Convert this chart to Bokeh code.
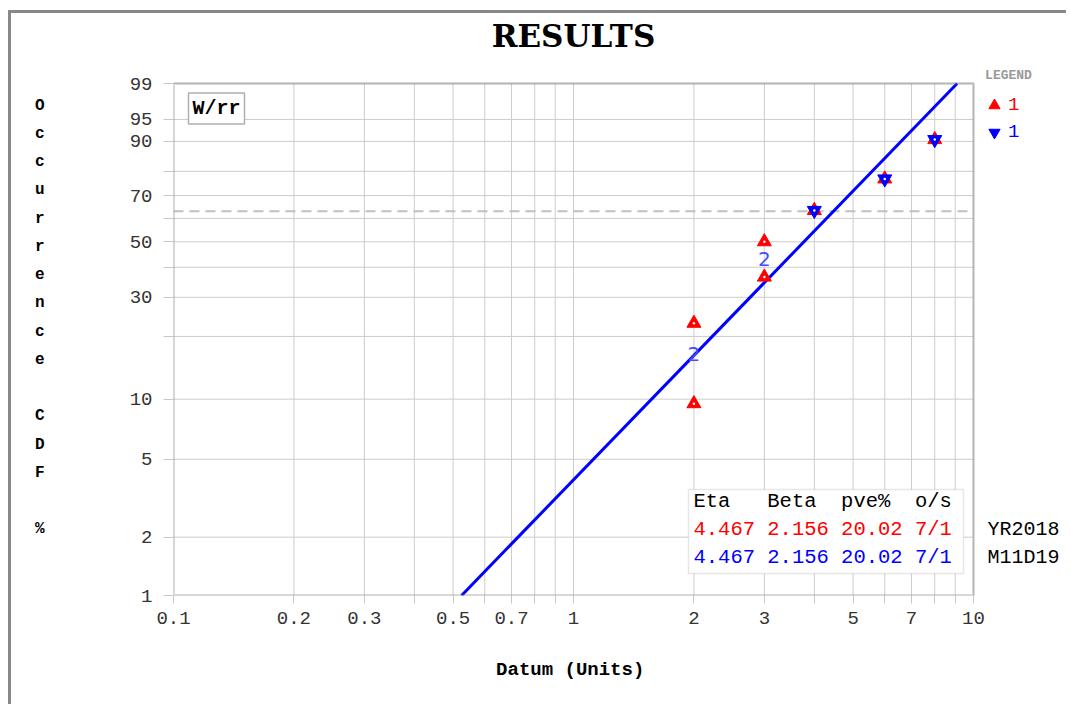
import math
from bokeh.plotting import figure
from bokeh.models import (FixedTicker, CustomJSTickFormatter, Label, BoxAnnotation,
                          Legend, LegendItem, LinearAxis, Range1d)
from bokeh.core.properties import value
from bokeh.embed import file_html
from bokeh.resources import INLINE

# ---------------- data ----------------
title_text = "RESULTS"
x_title = "Datum (Units)"
y_title = "Occurrence CDF %"
fit_tag = "W/rr"

fail_x = [2, 2, 3, 3, 4, 6, 8]
fail_pct = [9.5, 23.0, 36.5, 50.0, 63.5, 77.0, 90.5]
blue_x = [4, 6, 8]
blue_pct = [63.5, 77.0, 90.5]
group_x = [2, 3]
group_pct = [16.5, 43.0]
group_txt = ["2", "2"]
fit_x = [0.525, 9.1]
fit_pct = [1.0, 99.0]
eta_pct = 63.2

x_grid = [0.1, 0.2, 0.3, 0.4, 0.5, 0.6, 0.7, 0.8, 0.9,
          1, 2, 3, 4, 5, 6, 7, 8, 9, 10]
x_labels = [0.1, 0.2, 0.3, 0.5, 0.7, 1, 2, 3, 5, 7, 10]
y_grid = [1, 2, 5, 10, 20, 30, 40, 50, 60, 70, 80, 90, 95, 99]
y_labels = [1, 2, 5, 10, 30, 50, 70, 90, 95, 99]

table_header = "Eta   Beta  pve%  o/s"
table_rows = ["4.467 2.156 20.02 7/1", "4.467 2.156 20.02 7/1"]
row_colors = ["#ff0000", "#0000ff"]
stamps = ["YR2018", "M11D19"]
legend_labels = ["1", "1"]


def wb(pct):
    return math.log(-math.log(1 - pct / 100.0))


FONT = "Liberation Mono"
NB = "\u00a0"
# page layout (pixels): canvas origin, plot-area box
OX, OY = 11, 13
W, H = 1058, 694
PL, PR, PT, PB = 173, 973, 83, 595
DEC = (PR - PL) / 2.0                      # pixels per decade
FR_R = OX + W                              # frame right (page)
FR_T = OY                                  # frame top (page)

x_end = 10 ** (-1 + (FR_R - PL) / DEC)
y0, y1 = wb(1), wb(99)
y_end = y0 + (PB - FR_T) / (PB - PT) * (y1 - y0)

p = figure(width=W, height=H, x_axis_type="log", x_range=(0.1, x_end),
           y_range=(y0, y_end), output_backend="svg", toolbar_location=None,
           title=None, min_border_left=PL - OX, min_border_right=0,
           min_border_top=0, min_border_bottom=H - (PB - OY))
p.styles = {"margin-left": "8px", "margin-top": "10px",
            "border-top": "3px solid #888888", "border-left": "3px solid #888888"}
p.outline_line_color = None
p.grid.visible = False

xt = FixedTicker(ticks=x_grid)
yt = FixedTicker(ticks=[wb(v) for v in y_grid])
p.xaxis.ticker = xt
p.yaxis.ticker = yt
p.xaxis.bounds = (0.1, 10)
p.yaxis.bounds = (y0, y1)
p.xaxis.formatter = CustomJSTickFormatter(args=dict(labs=x_labels), code="""
for (const l of labs) { if (Math.abs(l - tick) < 1e-6 * Math.max(1, l)) return l < 1 ? l.toFixed(1) : l.toFixed(0); }
return "";
""")
p.yaxis.formatter = CustomJSTickFormatter(args=dict(labs=y_labels), code="""
const f = 100 * (1 - Math.exp(-Math.exp(tick)));
for (const l of labs) { if (Math.abs(l - f) < 0.01) return String(l); }
return "";
""")
for ax in (p.xaxis, p.yaxis):
    ax.axis_line_color = None
    ax.major_tick_line_color = "#c8c8c8"
    ax.minor_tick_line_color = None
    ax.major_tick_in = 0
    ax.major_label_text_font = FONT
    ax.major_label_text_font_size = "19px"
    ax.major_label_text_color = "#333333"
p.xaxis.major_tick_out = 8
p.xaxis.major_label_standoff = 8
p.yaxis.major_tick_out = 10
p.yaxis.major_label_standoff = 11
# the axis label is centred on the whole frame; trailing no-break spaces
# shift the visible words back under the plot area
p.xaxis.axis_label = x_title + NB * 9
p.xaxis.axis_label_text_font = FONT
p.xaxis.axis_label_text_font_size = "19px"
p.xaxis.axis_label_text_font_style = "bold"
p.xaxis.axis_label_text_color = "black"
p.xaxis.axis_label_standoff = 32

# stacked letters of the y title, as a second left axis
letter_idx = [i for i, ch in enumerate(y_title) if ch != " "]
LY0, LDY = 105, 28.25
p.extra_y_ranges = {"letters": Range1d(start=(PB - LY0) / LDY, end=(FR_T - LY0) / LDY)}
letters_axis = LinearAxis(y_range_name="letters", ticker=FixedTicker(ticks=letter_idx),
                          formatter=CustomJSTickFormatter(args=dict(txt=list(y_title)),
                                                          code="return txt[Math.round(tick)];"),
                          axis_line_color=None, major_tick_line_color=None,
                          minor_tick_line_color=None, major_tick_out=0, major_tick_in=0,
                          major_label_standoff=82, major_label_text_font=FONT,
                          major_label_text_font_size="16px",
                          major_label_text_font_style="bold",
                          major_label_text_color="black")
p.add_layout(letters_axis, "left")

# plot-area grid and frame
ys_lo, ys_hi = [y0] * len(x_grid), [y1] * len(x_grid)
p.segment(x0=x_grid, y0=ys_lo, x1=x_grid, y1=ys_hi, line_color="#cccccc",
          line_width=1, level="underlay")
yg = [wb(v) for v in y_grid]
p.segment(x0=[0.1] * len(yg), y0=yg, x1=[10] * len(yg), y1=yg, line_color="#cccccc",
          line_width=1, level="underlay")
p.line([0.1, 10], [wb(eta_pct)] * 2, line_color="#c0c0c0", line_width=2,
       line_dash="10 6", level="underlay")

p.line(fit_x, [wb(v) for v in fit_pct], line_color="#0000ff", line_width=3)

fy = [wb(v) for v in fail_pct]
by = [wb(v) for v in blue_pct]
red = p.scatter(fail_x, fy, marker="triangle", size=14,
                fill_color="#ff0000", line_color="#ff0000", line_width=1)
p.scatter(fail_x, fy, marker="circle", size=2.5, fill_color="white", line_color=None)
blue = p.scatter(blue_x, by, marker="inverted_triangle", size=14,
                 fill_color="#0000ff", line_color="#0000ff", line_width=1)
p.scatter(blue_x, by, marker="circle", size=2.5, fill_color="white", line_color=None)
p.text(group_x, [wb(v) for v in group_pct], text=group_txt, text_color="#4a4aff",
       text_font=value("DejaVu Sans"), text_font_size="20px",
       text_align="center", text_baseline="middle")

p.add_layout(BoxAnnotation(left=0.1, right=10, bottom=y0, top=y1, fill_alpha=0,
                           line_color="#808080", line_width=3))


def lab(px, py, text, size="19px", color="black", style="normal", align="left",
        font=FONT, **kw):
    p.add_layout(Label(x=px - PL, y=PB - py, x_units="screen", y_units="screen",
                       text=text.replace(" ", NB), text_font=font, text_font_size=size,
                       text_color=color, text_font_style=style, text_align=align,
                       text_baseline="middle", **kw))


lab(573, 35, title_text, size="31px", style="bold", align="center", font="DejaVu Serif")
lab(188, 108, fit_tag, size="20px", style="bold", align="left",
    border_line_color="#b0b0b0", border_line_width=1.5,
    background_fill_color="white", padding=4)

p.add_layout(BoxAnnotation(left=688 - PL, right=963 - PL, top=PB - 489, bottom=PB - 573,
                           left_units="screen", right_units="screen",
                           top_units="screen", bottom_units="screen",
                           fill_color="white", fill_alpha=1.0,
                           line_color="#b0b0b0", line_width=1.5))
lab(693, 501, table_header, size="20.5px")
for k, (row, col) in enumerate(zip(table_rows, row_colors)):
    lab(693, 529 + 28 * k, row, size="20.5px", color=col)
for k, s in enumerate(stamps):
    lab(987, 529 + 28 * k, s, size="20px")

lab(1008, 75, "LEGEND", size="13px", style="bold", color="#999999", align="center")

GW, GH = 28, 30
for r, lbl, col, cy in ((red, legend_labels[0], "#ff0000", 105),
                        (blue, legend_labels[1], "#0000ff", 132)):
    leg = Legend(items=[LegendItem(label=value(lbl), renderers=[r])],
                 location=(994 - GW / 2 - PL, PB - (cy + GH / 2)),
                 glyph_width=GW, glyph_height=GH, label_standoff=0,
                 padding=0, margin=0, spacing=0,
                 border_line_color=None, background_fill_alpha=0,
                 label_text_font=FONT, label_text_font_size="19px",
                 label_text_color=col)
    p.add_layout(leg)

open("out.html", "w").write(file_html(p, INLINE))
